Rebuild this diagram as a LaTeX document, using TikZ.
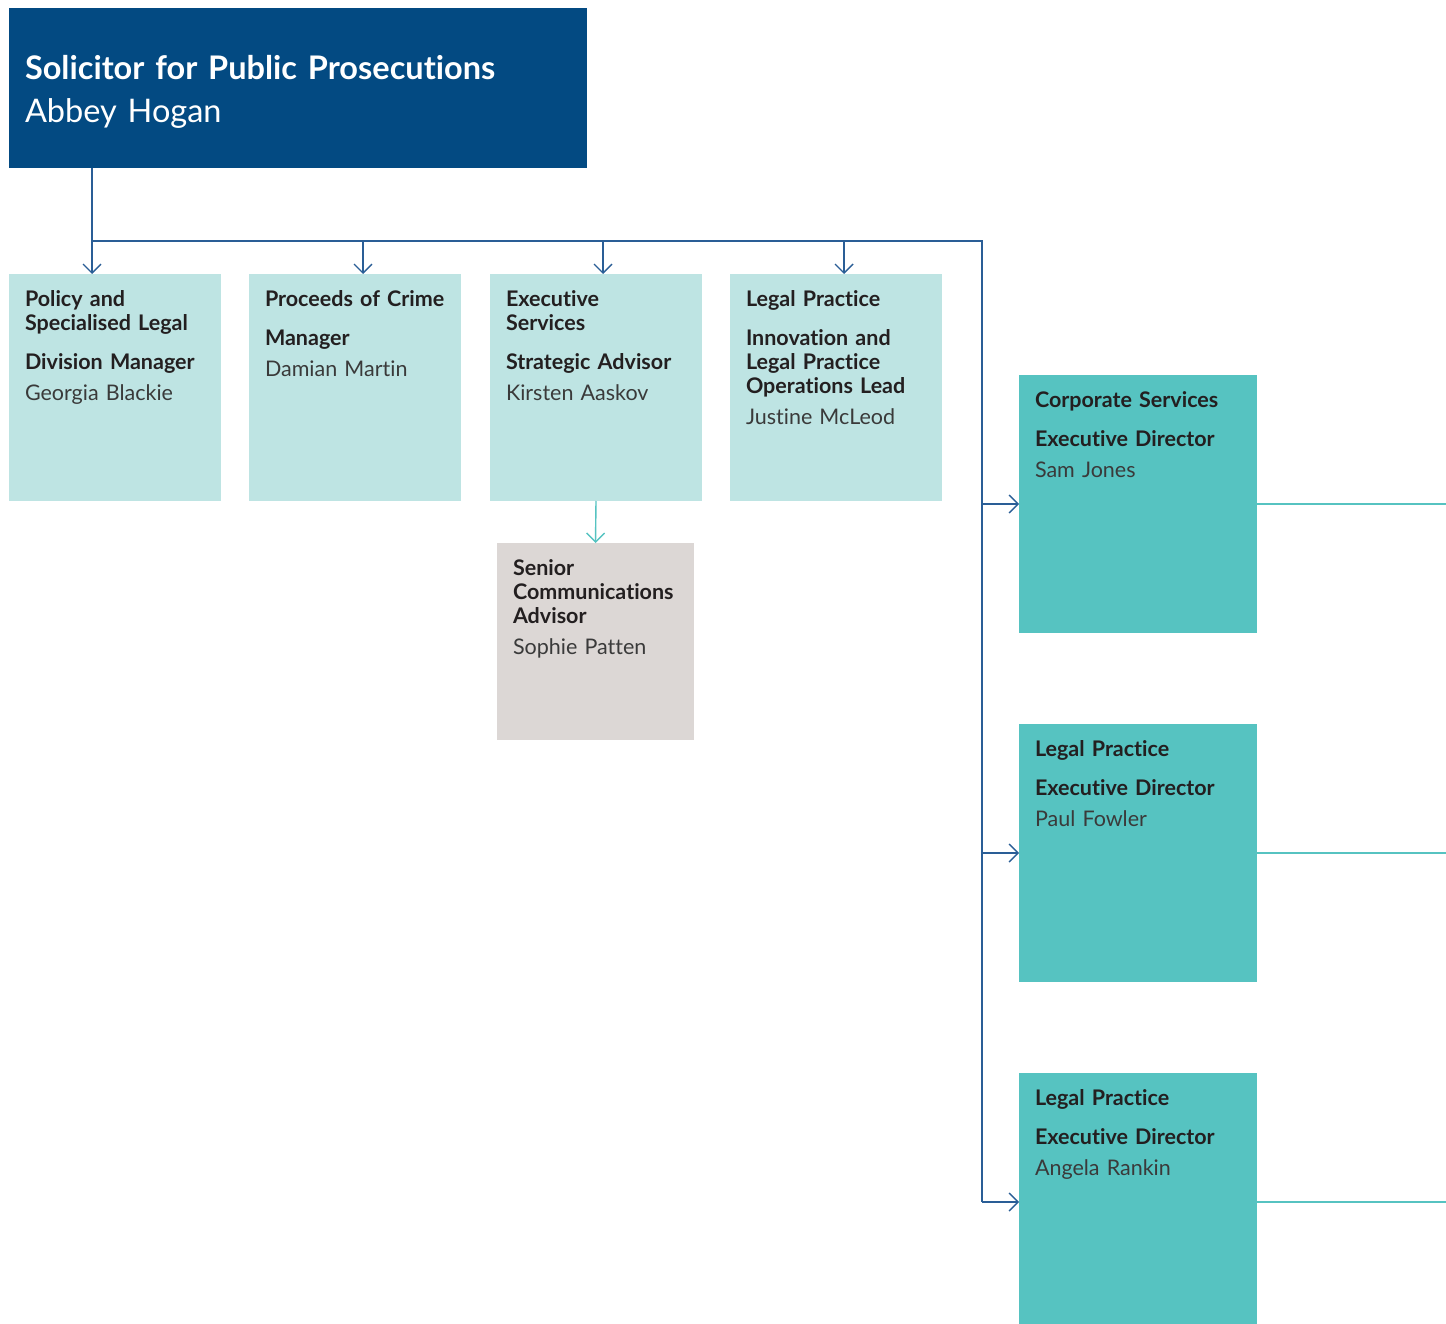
\documentclass[tikz,border=0pt]{standalone}
\usepackage{fontspec}
\setmainfont{Lato}[Ligatures=NoCommon]
\usetikzlibrary{arrows.meta,calc}

\definecolor{navy}{HTML}{034A82}
\definecolor{linkblue}{HTML}{2A5E96}
\definecolor{paleteal}{HTML}{BEE4E3}
\definecolor{midteal}{HTML}{56C3C1}
\definecolor{stone}{HTML}{DCD7D5}
\definecolor{ink}{HTML}{231F20}
\definecolor{nametext}{HTML}{3A3A3A}

\tikzset{
  unitbox/.style={rectangle, inner sep=0pt, outer sep=0pt, anchor=north west, draw=none},
  headbox/.style={unitbox, fill=navy, minimum width=578pt, minimum height=160pt},
  rowbox/.style={unitbox, fill=paleteal, minimum width=212pt, minimum height=227pt},
  advbox/.style={unitbox, fill=stone, minimum width=197pt, minimum height=197pt},
  edbox/.style={unitbox, fill=midteal, minimum width=238pt, minimum height=258pt},
  txt/.style={anchor=base west, inner sep=0pt, outer sep=0pt, text width=#1, align=left,
              font=\fontsize{21.5}{24}\selectfont, text=ink},
  headtxt/.style={anchor=base west, inner sep=0pt, outer sep=0pt, text width=540pt, align=left,
              font=\fontsize{32.5}{43}\selectfont, text=white},
  tip/.style={-{Straight Barb[length=9pt,width=18pt]}},
  blueline/.style={draw=linkblue, line width=1.4pt},
  tealline/.style={draw=midteal, line width=1.4pt},
}
\newcommand{\who}[1]{\textcolor{nametext}{#1}}

\begin{document}
\begin{tikzpicture}[x=1pt, y=-1pt]
  \useasboundingbox (0,0) rectangle (1446,1324);
  \clip (0,0) rectangle (1446,1324);

  % head of the organisation
  \node[headbox] (head) at (9,8) {};
  \node[headtxt] (headt) at ($(head.north west)+(16,72)$)
    {\bfseries Solicitor for Public Prosecutions\\ \mdseries Abbey Hogan};

  % first row of units
  \node[rowbox] (b1) at (9,274) {};
  \node[rowbox] (b2) at (249,274) {};
  \node[rowbox] (b3) at (490,274) {};
  \node[rowbox] (b4) at (730,274) {};

  \node[txt=195pt] (t1) at ($(b1.north west)+(16,33)$)
    {\bfseries Policy and\\ Specialised Legal\\[15pt] Division Manager\\[7pt] \mdseries\who{Georgia Blackie}};
  \node[txt=195pt] (t2) at ($(b2.north west)+(16,33)$)
    {\bfseries Proceeds of Crime\\[15pt] Manager\\[7pt] \mdseries\who{Damian Martin}};
  \node[txt=195pt] (t3) at ($(b3.north west)+(16,33)$)
    {\bfseries Executive\\ Services\\[15pt] Strategic Advisor\\[7pt] \mdseries\who{Kirsten Aaskov}};
  \node[txt=195pt] (t4) at ($(b4.north west)+(16,33)$)
    {\bfseries Legal Practice\\[15pt] Innovation and\\ Legal Practice\\ Operations Lead\\[7pt] \mdseries\who{Justine McLeod}};

  % advisor below executive services
  \node[advbox] (s1) at (497,543) {};
  \node[txt=180pt] (st) at ($(s1.north west)+(16,32)$)
    {\bfseries Senior\\ Communications\\ Advisor\\[7pt] \mdseries\who{Sophie Patten}};

  % executive directors
  \node[edbox] (r1) at (1019,375) {};
  \node[edbox] (r2) at (1019,724) {};
  \node[edbox] (r3) at (1019,1073) {};

  \node[txt=220pt] (rt1) at ($(r1.north west)+(16,32)$)
    {\bfseries Corporate Services\\[15pt] Executive Director\\[7pt] \mdseries\who{Sam Jones}};
  \node[txt=220pt] (rt2) at ($(r2.north west)+(16,32)$)
    {\bfseries Legal Practice\\[15pt] Executive Director\\[7pt] \mdseries\who{Paul Fowler}};
  \node[txt=220pt] (rt3) at ($(r3.north west)+(16,32)$)
    {\bfseries Legal Practice\\[15pt] Executive Director\\[7pt] \mdseries\who{Angela Rankin}};

  % reporting lines
  \coordinate (j1) at (92,241);
  \coordinate (j2) at (363,241);
  \coordinate (j3) at (603,241);
  \coordinate (j4) at (844,241);
  \coordinate (jr) at (982,241);

  \draw[blueline] (j1 |- head.south) -- (j1);
  \draw[blueline] (j1) -- (jr) -- (jr |- r3.west);
  \draw[blueline, tip] (j1) -- (j1 |- b1.north);
  \draw[blueline, tip] (j2) -- (j2 |- b2.north);
  \draw[blueline, tip] (j3) -- (j3 |- b3.north);
  \draw[blueline, tip] (j4) -- (j4 |- b4.north);
  \draw[blueline, tip] (jr |- r1.west) -- (r1.west);
  \draw[blueline, tip] (jr |- r2.west) -- (r2.west);
  \draw[blueline, tip] (jr |- r3.west) -- (r3.west);

  \draw[tealline, tip] (b3.south) -- (s1.north);

  % continuation lines to the right
  \draw[tealline] (r1.east) -- ++(189,0);
  \draw[tealline] (r2.east) -- ++(189,0);
  \draw[tealline] (r3.east) -- ++(189,0);
\end{tikzpicture}
\end{document}
